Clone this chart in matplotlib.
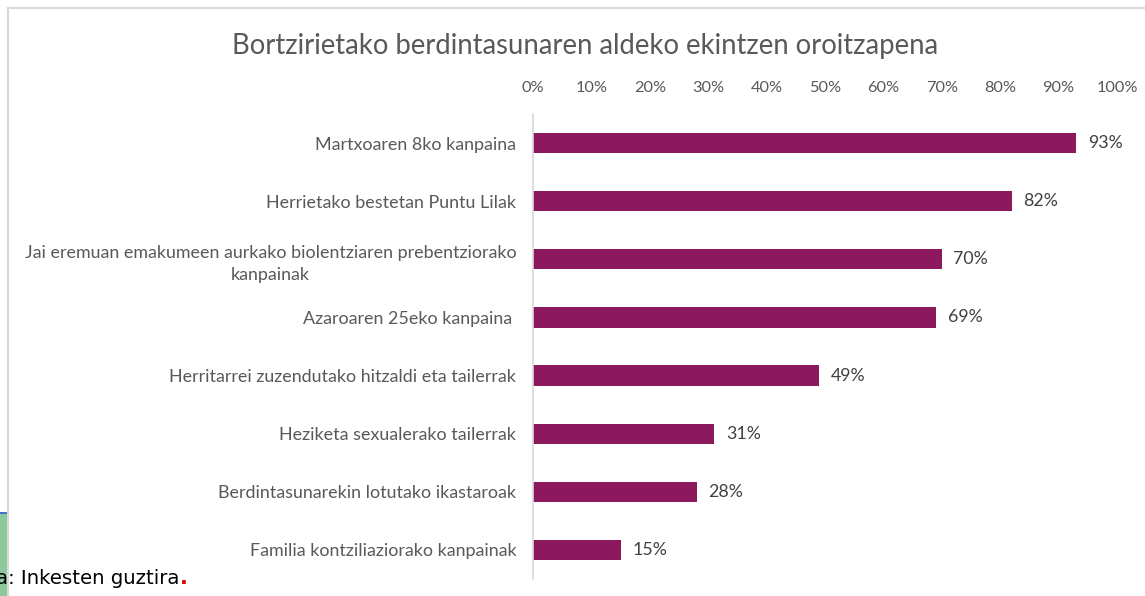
import matplotlib.pyplot as plt
from matplotlib.patches import Rectangle

categories = [
    'Martxoaren 8ko kanpaina',
    'Herrietako bestetan Puntu Lilak',
    'Jai eremuan emakumeen aurkako biolentziaren prebentziorako\nkanpainak',
    'Azaroaren 25eko kanpaina ',
    'Herritarrei zuzendutako hitzaldi eta tailerrak',
    'Heziketa sexualerako tailerrak',
    'Berdintasunarekin lotutako ikastaroak',
    'Familia kontziliaziorako kanpainak',
]
values = [93, 82, 70, 69, 49, 31, 28, 15]
ticks = [0, 10, 20, 30, 40, 50, 60, 70, 80, 90, 100]
tick_labels = ['{}%'.format(t) for t in ticks]

W, H = 1145, 596
bar_color = '#8C195D'
text_gray = '#595959'
plt.rcParams['font.family'] = ['Lato', 'DejaVu Sans']

fig = plt.figure(figsize=(W / 100, H / 100), dpi=100)

# chart frame (clipped at right and bottom)
fig.patches.append(Rectangle((8 / W, -0.1), 1.2, 1 - 8 / H + 0.1,
                             transform=fig.transFigure, fill=False,
                             edgecolor='#D9D9D9', lw=1.5))
# slice of the neighbouring box at bottom left
fig.patches.append(Rectangle((0, 0), 7 / W, 1 - 512 / H,
                             transform=fig.transFigure, facecolor='#8DC89A',
                             edgecolor='none'))
fig.patches.append(Rectangle((0, 1 - 514 / H), 7 / W, 2 / H,
                             transform=fig.transFigure, facecolor='#4472C4',
                             edgecolor='none'))

ax = fig.add_axes([533 / W, 1 - 579 / H, (1117 - 533) / W, (579 - 114) / H])
ypos = list(range(len(categories)))
ax.barh(ypos, values, height=0.35, color=bar_color)
ax.set_xlim(0, 100)
ax.set_ylim(len(categories) - 0.5, -0.5)
ax.set_yticks(ypos)
ax.set_yticklabels(categories, fontsize=12.9, color=text_gray,
                   multialignment='center', linespacing=1.45)
ax.set_xticks(ticks)
ax.set_xticklabels(tick_labels, fontsize=11.8, color=text_gray)
ax.xaxis.tick_top()
ax.tick_params(axis='both', length=0)
ax.tick_params(axis='x', pad=14)
ax.tick_params(axis='y', pad=12)
for s in ['top', 'right', 'bottom']:
    ax.spines[s].set_visible(False)
ax.spines['left'].set_color('#D9D9D9')
ax.spines['left'].set_linewidth(1.2)

for y, v in zip(ypos, values):
    ax.text(v + 2.0, y, '{}%'.format(v), va='center', ha='left',
            fontsize=12.8, color='#404040')

fig.text(585 / W, 1 - 46 / H, 'Bortzirietako berdintasunaren aldeko ekintzen oroitzapena',
         ha='center', va='center', fontsize=19.8, color=text_gray)

# source note, partly cut at the left edge as in the original slide
t = fig.text(-4 / W, 1 - 578 / H, 'a: Inkesten guztira', ha='left', va='center',
             fontsize=14.2, color='black', family='DejaVu Sans')
fig.canvas.draw()
bb = t.get_window_extent()
fig.text(bb.x1 / W, 1 - 578 / H, '.', ha='left', va='center', fontsize=15,
         color='#E00000', family='DejaVu Sans', fontweight='bold')

fig.savefig('out.png', dpi=100)
